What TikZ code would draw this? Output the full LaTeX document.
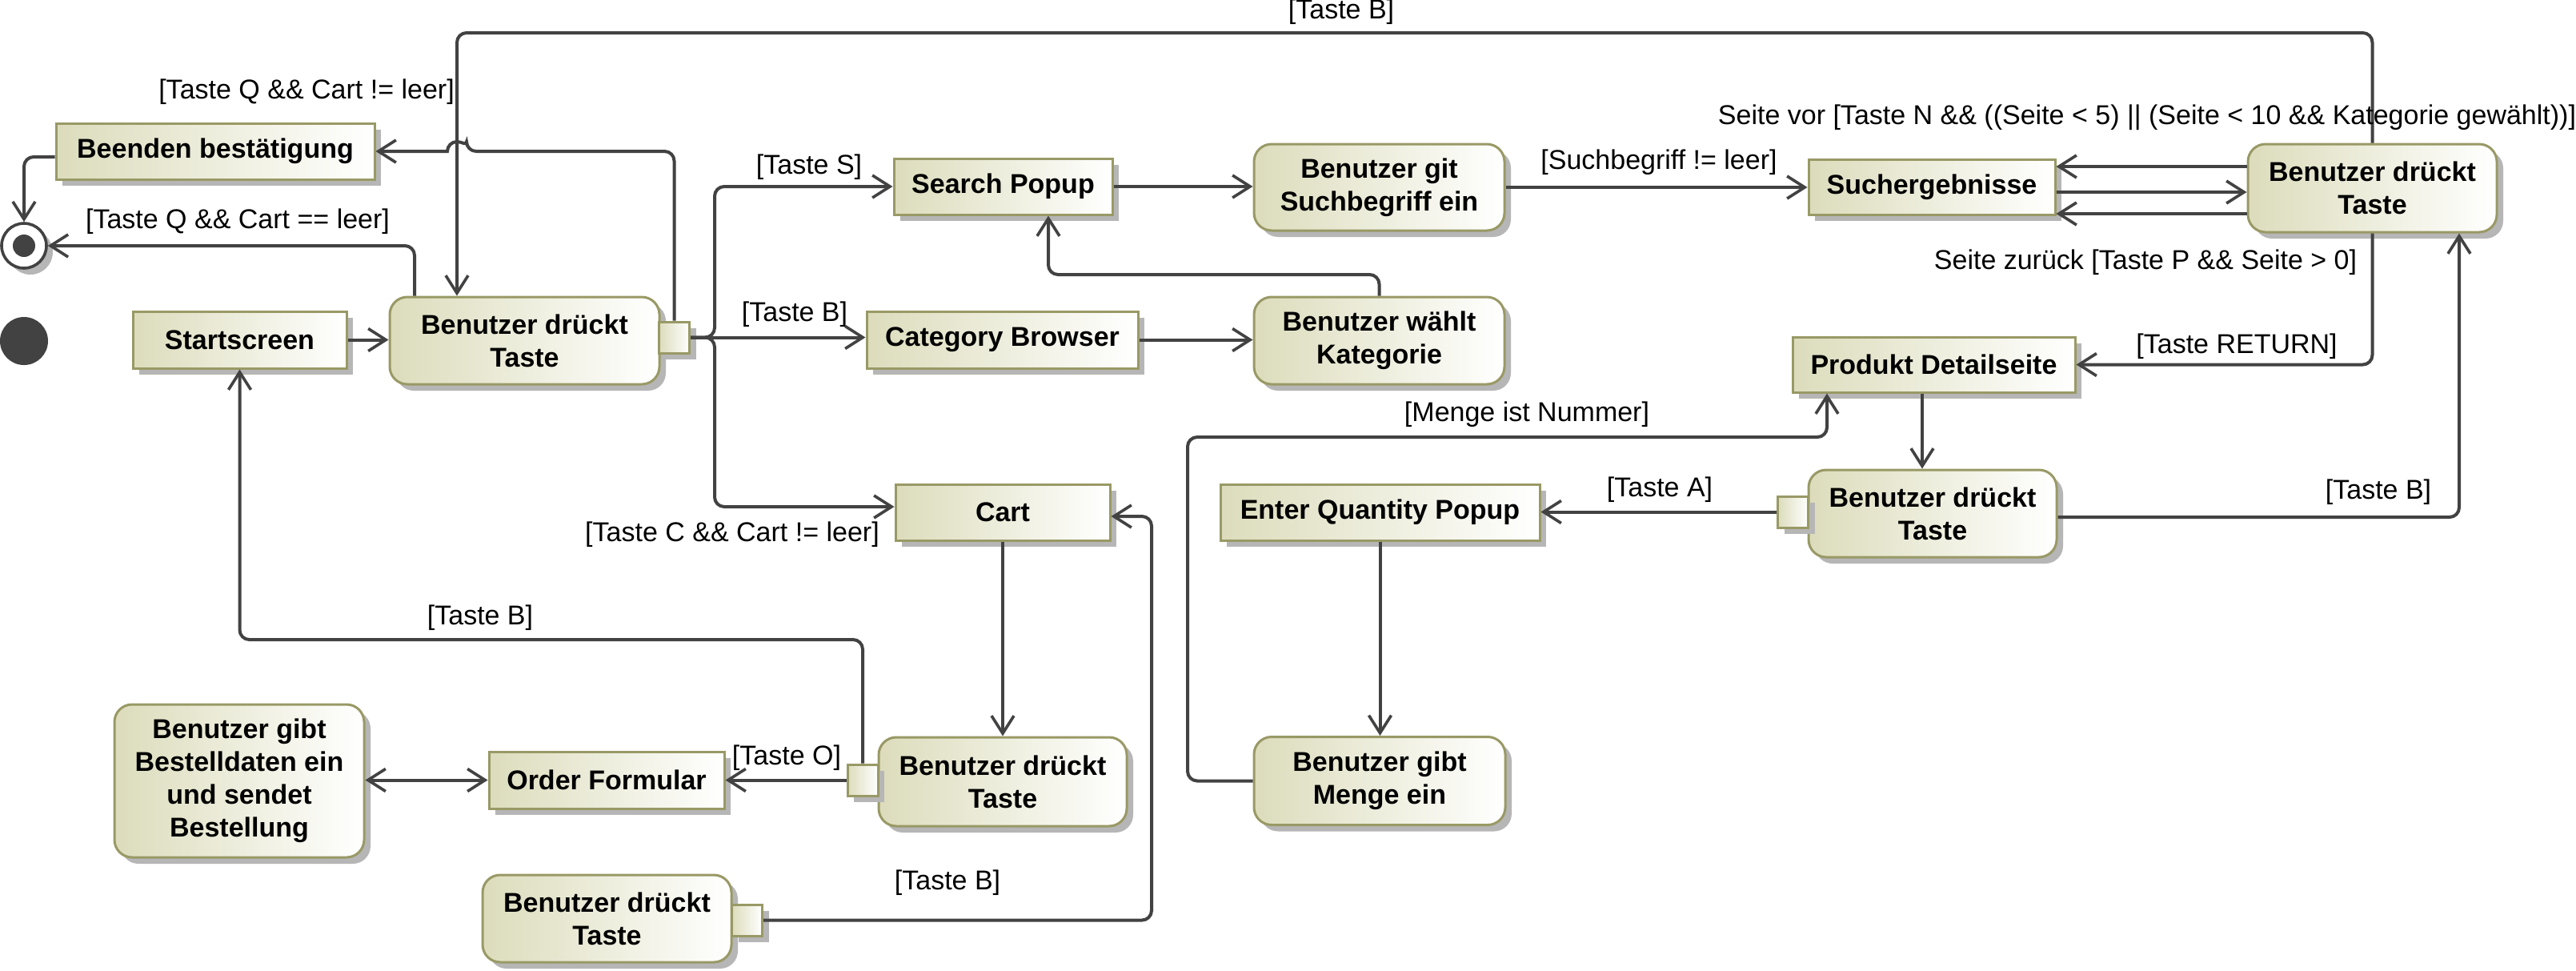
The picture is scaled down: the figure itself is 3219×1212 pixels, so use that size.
\documentclass[tikz,border=0pt]{standalone}
\usepackage{fontspec}
\setmainfont{Liberation Sans}
\usetikzlibrary{arrows.meta,shadows}
\definecolor{olv}{RGB}{153,153,102}
\definecolor{olvl}{RGB}{220,220,188}
\definecolor{lc}{RGB}{66,66,66}
\definecolor{shd}{RGB}{182,182,182}
\tikzset{
 base/.style={draw=olv, line width=1.5pt, left color=olvl, right color=white,
   general shadow={fill=shd, shadow xshift=4pt, shadow yshift=-4pt},
   inner sep=0pt, align=center, font=\bfseries\fontsize{17}{20.5}\selectfont},
 rbox/.style={base, rectangle},
 act/.style={base, rounded corners=11pt},
 pinbox/.style={base, minimum width=19pt, minimum height=19.5pt},
 lbl/.style={font=\fontsize{17}{20}\selectfont, inner sep=0pt},
 tipb/.tip={Straight Barb[length=11pt,width=14pt,line width=1.8pt]},
 plain/.style={draw=lc, line width=2pt, rounded corners=6pt},
 arr/.style={plain, -tipb},
}
\begin{document}
\begin{tikzpicture}[x=0.5pt,y=-0.5pt]
\useasboundingbox (0,0) rectangle (3219,1212);
\fill[white] (0,0) rectangle (3219,1212);

% nodes
\node[rbox, minimum width=199pt, minimum height=35pt] (bend) at (269,189) {Beenden bestätigung};
\node[circle, draw=lc, line width=1.8pt, fill=white, minimum size=28pt, inner sep=0pt,
      general shadow={fill=shd, shadow xshift=4pt, shadow yshift=-4pt}] (final) at (30,307) {};
\node[circle, fill=lc, minimum size=14pt, inner sep=0pt] (finaldot) at (final.center) {};
\node[circle, fill=lc, minimum size=30pt, inner sep=0pt] (init) at (30,426) {};
\node[rbox, minimum width=133.5pt, minimum height=35.5pt] (start) at (299.5,424.5) {Startscreen};
\node[act, minimum width=168.5pt, minimum height=54.5pt] (b1) at (655.5,425.5) {Benutzer drückt\\Taste};
\node[pinbox] (pin1) at (842.5,421.5) {};
\node[rbox, minimum width=136.5pt, minimum height=35pt] (search) at (1253.5,233) {Search Popup};
\node[act, minimum width=156.5pt, minimum height=54pt] (sgit) at (1723.5,234) {Benutzer git\\Suchbegriff ein};
\node[rbox, minimum width=169.5pt, minimum height=35.5pt] (cat) at (1252.5,424.5) {Category Browser};
\node[act, minimum width=156.5pt, minimum height=54.5pt] (kat) at (1723.5,425.5) {Benutzer wählt\\Kategorie};
\node[rbox, minimum width=154pt, minimum height=34.5pt] (sucherg) at (2414,233.5) {Suchergebnisse};
\node[act, minimum width=155.5pt, minimum height=55pt] (b2) at (2964.5,235) {Benutzer drückt\\Taste};
\node[rbox, minimum width=176.5pt, minimum height=34.5pt] (prod) at (2416.5,455.5) {Produkt Detailseite};
\node[act, minimum width=155pt, minimum height=54.5pt] (b3) at (2415,641.5) {Benutzer drückt\\Taste};
\node[pinbox] (pin3) at (2240.5,639.5) {};
\node[rbox, minimum width=199.5pt, minimum height=35pt] (enterq) at (1724.5,640) {Enter Quantity Popup};
\node[act, minimum width=157pt, minimum height=55pt] (menge) at (1724,975.5) {Benutzer gibt\\Menge ein};
\node[rbox, minimum width=134pt, minimum height=35pt] (cart) at (1253,640) {Cart};
\node[act, minimum width=155pt, minimum height=55.5pt] (b4) at (1253,976.5) {Benutzer drückt\\Taste};
\node[pinbox] (pin4) at (1078,974.5) {};
\node[rbox, minimum width=147pt, minimum height=35.5pt] (order) at (758,974.5) {Order Formular};
\node[act, minimum width=156pt, minimum height=95.5pt] (bestell) at (299,975.5) {Benutzer gibt\\Bestelldaten ein\\und sendet\\Bestellung};
\node[act, minimum width=155.5pt, minimum height=54.5pt] (b5) at (758.5,1147.5) {Benutzer drückt\\Taste};
\node[pinbox] (pin5) at (933.5,1149.5) {};

% connectors
\draw[arr] (start.east) -- (start.east -| b1.west);
\draw[arr] (518,0 |- b1.north) |- (final.east);
\draw[arr] (pin1.north) |- (583,189) [sharp corners] arc[start angle=0, end angle=180, radius=6pt] -- (bend.east);
\draw[arr] ([yshift=-3.5pt]bend.west) -| (final.north);
\draw[arr] (b2.north) |- (571,41) -- (571,0 |- b1.north);
\draw[arr] (pin1.east) -- (893,0 |- pin1.east) |- (search.west);
\draw[arr] (pin1.east) -- (pin1.east -| cat.west);
\draw[arr] (pin1.east) -- (893,0 |- pin1.east) |- (cart.west |- 0,633);
\draw[arr] (search.east) -- (search.east -| sgit.west);
\draw[arr] (sgit.east) -- (sgit.east -| sucherg.west);
\draw[arr] (cat.east) -- (cat.east -| kat.west);
\draw[arr] (kat.north) |- (1310,343) -- (1310,0 |- search.south);
\draw[arr] (b2.west |- 0,208) -- (sucherg.east |- 0,208);
\draw[arr] (sucherg.east |- 0,240) -- (b2.west |- 0,240);
\draw[arr] (b2.west |- 0,267) -- (sucherg.east |- 0,267);
\draw[arr] (b2.south) |- (prod.east);
\draw[arr] (2402,0 |- prod.south) -- (2402,0 |- b3.north);
\draw[arr] (b3.east |- 0,646) -| (3073,0 |- b2.south);
\draw[arr] (pin3.west) -- (pin3.west -| enterq.east);
\draw[arr] (enterq.south) -- (enterq.south |- menge.north);
\draw[arr] (menge.west) -| (1484,546) -| (2283,0 |- prod.south);
\draw[arr] (cart.south) -- (cart.south |- b4.north);
\draw[arr] (pin4.north) -- (pin4.north |- 0,799) -| (start.south);
\draw[arr] (pin4.west) -- (pin4.west -| order.east);
\draw[plain, tipb-tipb] (bestell.east |- order.west) -- (order.west);
\draw[arr] (pin5.east) -| (1439,645) -- (cart.east |- 0,645);

% labels
\node[lbl] (l1) at (297,277) {[Taste Q \&\& Cart == leer]};
\node[lbl] (l2) at (383,115) {[Taste Q \&\& Cart != leer]};
\node[lbl] (l3) at (1676,15) {[Taste B]};
\node[lbl] (l4) at (1011,209) {[Taste S]};
\node[lbl] (l5) at (993,393) {[Taste B]};
\node[lbl] (l6) at (915,668) {[Taste C \&\& Cart != leer]};
\node[lbl] (l7) at (2073,203) {[Suchbegriff != leer]};
\node[lbl] (l8) at (2683,147) {Seite vor [Taste N \&\& ((Seite < 5) || (Seite < 10 \&\& Kategorie gewählt))]};
\node[lbl] (l9) at (2681,328) {Seite zurück [Taste P \&\& Seite > 0]};
\node[lbl] (l10) at (2795,433) {[Taste RETURN]};
\node[lbl] (l11) at (1908,518) {[Menge ist Nummer]};
\node[lbl] (l12) at (2074,612) {[Taste A]};
\node[lbl] (l13) at (2972,615) {[Taste B]};
\node[lbl] (l14) at (600,772) {[Taste B]};
\node[lbl] (l15) at (983,947) {[Taste O]};
\node[lbl] (l16) at (1184,1103) {[Taste B]};
\end{tikzpicture}
\end{document}
